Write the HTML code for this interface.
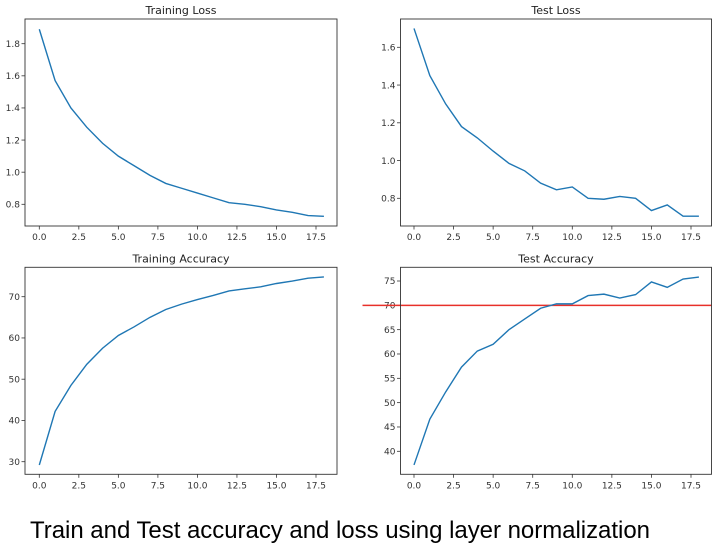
<!DOCTYPE html>
<html><head><meta charset="utf-8"><style>body{margin:0;background:#fff}svg{display:block}</style></head>
<body>
<svg id="fig" width="718" height="547" xmlns="http://www.w3.org/2000/svg" font-family="'DejaVu Sans','Liberation Sans',sans-serif">
<rect width="718" height="547" fill="#fff"/>
<text x="30" y="538" font-family="'Liberation Sans',sans-serif" font-size="24" textLength="620" fill="#000">Train and Test accuracy and loss using layer normalization</text>
</svg>
<script>
const epochs = [0,1,2,3,4,5,6,7,8,9,10,11,12,13,14,15,16,17,18];
const trainLoss = [1.89,1.57,1.40,1.28,1.18,1.10,1.04,0.98,0.93,0.90,0.87,0.84,0.81,0.80,0.785,0.765,0.75,0.73,0.725];
const testLoss = [1.70,1.45,1.30,1.18,1.12,1.05,0.985,0.945,0.88,0.845,0.86,0.80,0.795,0.81,0.80,0.735,0.765,0.705,0.705];
const trainAcc = [29.2,42.2,48.5,53.6,57.5,60.6,62.7,65.0,66.9,68.2,69.3,70.3,71.4,71.9,72.4,73.2,73.8,74.5,74.8];
const testAcc = [37.2,46.6,52.2,57.3,60.6,62.0,65.0,67.2,69.4,70.3,70.3,72.0,72.3,71.5,72.2,74.8,73.7,75.4,75.8];
const xTicks = [0,2.5,5,7.5,10,12.5,15,17.5];
const trainLossTicks = [0.8,1.0,1.2,1.4,1.6,1.8];
const testLossTicks = [0.8,1.0,1.2,1.4,1.6];
const trainAccTicks = [30,40,50,60,70];
const testAccTicks = [40,45,50,55,60,65,70,75];
const threshold = [70];

const NS='http://www.w3.org/2000/svg';
const svg=document.getElementById('fig');
function mk(tag,attrs,parent){const e=document.createElementNS(NS,tag);for(const k in attrs)e.setAttribute(k,attrs[k]);(parent||svg).appendChild(e);return e;}

function panel(name,title,box,xr,yr,ys,yticks,dec,hline){
  const g=mk('g',{});
  
  
  const X=v=>box.x0+(v-xr[0])/(xr[1]-xr[0])*(box.x1p-box.x0);
  const Y=v=>box.y0+(v-yr[0])/(yr[1]-yr[0])*(box.y1p-box.y0);
  const t=mk('text',{x:(box.l+box.r)/2,y:box.t-5,'text-anchor':'middle','font-size':11,fill:'#222'},g);
  t.textContent=title;
  
  
  xTicks.forEach(v=>{
    const x=X(v);
    mk('line',{x1:x,x2:x,y1:box.b,y2:box.b+3.5,stroke:'#333','stroke-width':0.8},g);
    const l=mk('text',{x:x,y:box.b+14,'text-anchor':'middle','font-size':9,fill:'#333'},g);
    l.textContent=v.toFixed(1);
    
    
  });
  yticks.forEach(v=>{
    const y=Y(v);
    mk('line',{x1:box.l-3.5,x2:box.l,y1:y,y2:y,stroke:'#333','stroke-width':0.8},g);
    const l=mk('text',{x:box.l-5,y:y+3.2,'text-anchor':'end','font-size':9,fill:'#333'},g);
    l.textContent=v.toFixed(dec);
    
    
  });
  if(hline){hline.forEach(h=>{
    const hl=mk('line',{x1:box.l-38,x2:box.r,y1:Y(h),y2:Y(h),stroke:'#e8302a','stroke-width':1.5},g);
    
    
  });}
  const pts=epochs.map((e,i)=>X(e).toFixed(2)+','+Y(ys[i]).toFixed(2)).join(' ');
  const pl=mk('polyline',{points:pts,fill:'none',stroke:'#1f77b4','stroke-width':1.4},g);
  
  
  const fr=mk('rect',{x:box.l,y:box.t,width:box.r-box.l,height:box.b-box.t,fill:'none',stroke:'#333','stroke-width':0.9},g);
  
  
}
panel('training-loss-chart','Training Loss',{l:25,r:337,t:19,b:226,x0:39.3,x1p:316,y0:43.7,y1p:204.3},[0,17.5],[1.8,0.8],trainLoss,trainLossTicks,1);
panel('test-loss-chart','Test Loss',{l:400.5,r:711.5,t:19,b:226,x0:414,x1p:691,y0:47.3,y1p:198.3},[0,17.5],[1.6,0.8],testLoss,testLossTicks,1);
panel('training-accuracy-chart','Training Accuracy',{l:25,r:337,t:267.3,b:474.3,x0:39.3,x1p:316,y0:296.7,y1p:461.7},[0,17.5],[70,30],trainAcc,trainAccTicks,0);
panel('test-accuracy-chart','Test Accuracy',{l:400.5,r:711.5,t:267.3,b:474.3,x0:414,x1p:691,y0:281,y1p:451.3},[0,17.5],[75,40],testAcc,testAccTicks,0,threshold);
</script>
</body></html>
